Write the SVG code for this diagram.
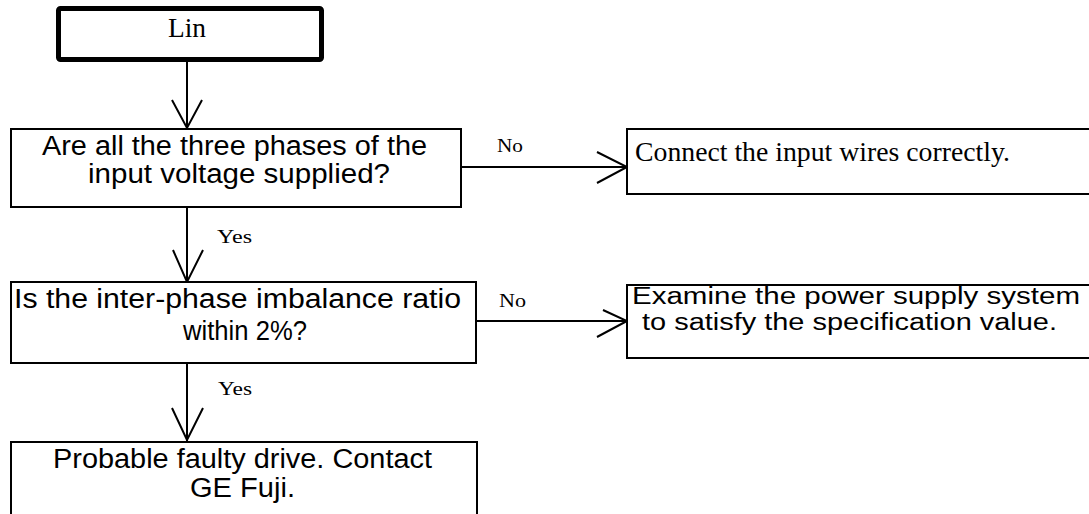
<svg xmlns="http://www.w3.org/2000/svg" width="1089" height="514" viewBox="0 0 1089 514">
<style>
.box{fill:#fff;stroke:#000;stroke-width:2}
.thick{fill:#fff;stroke:#000;stroke-width:5}
.ln{fill:none;stroke:#000;stroke-width:2}
.serif{font-family:"Liberation Serif","Times New Roman",serif;fill:#000}
.sans{font-family:"Liberation Sans",Arial,sans-serif;font-size:27px;fill:#000}
.lbl{font-family:"Liberation Serif","Times New Roman",serif;font-size:19px;fill:#000}
</style>
<rect width="1089" height="514" fill="#fff"/>
<g id="connectors">
<line class="ln" x1="187" y1="61" x2="187" y2="128"/>
<polyline class="ln" points="172,100 187,128 202,100"/>
<line class="ln" x1="187" y1="207" x2="187" y2="282"/>
<polyline class="ln" points="173,250 187,282 203,250"/>
<text class="lbl" x="217" y="243" textLength="35" lengthAdjust="spacingAndGlyphs">Yes</text>
<line class="ln" x1="187" y1="363" x2="187" y2="442"/>
<polyline class="ln" points="172,408 187,440 203,408"/>
<text class="lbl" x="218" y="395" textLength="34" lengthAdjust="spacingAndGlyphs">Yes</text>
<line class="ln" x1="461" y1="167" x2="627" y2="167"/>
<polyline class="ln" points="597,152 627,167 597,183"/>
<text class="lbl" x="497" y="152" textLength="26" lengthAdjust="spacingAndGlyphs">No</text>
<line class="ln" x1="476" y1="321" x2="627" y2="321"/>
<polyline class="ln" points="603,310 627,321 597,337"/>
<text class="lbl" x="499" y="307" textLength="27" lengthAdjust="spacingAndGlyphs">No</text>
</g>
<g id="lin">
<rect class="thick" x="58.5" y="8.5" width="263" height="51" rx="2"/>
<text class="serif" font-size="27" x="168" y="37" textLength="38" lengthAdjust="spacingAndGlyphs">Lin</text>
</g>
<g id="q1">
<rect class="box" x="11" y="129" width="450" height="78"/>
<text class="sans" x="42" y="155" textLength="385" lengthAdjust="spacingAndGlyphs">Are all the three phases of the</text>
<text class="sans" x="88" y="183" textLength="302" lengthAdjust="spacingAndGlyphs">input voltage supplied?</text>
</g>
<g id="a1">
<rect class="box" x="627" y="129" width="480" height="65"/>
<text class="serif" font-size="27" x="635" y="161" textLength="375" lengthAdjust="spacingAndGlyphs">Connect the input wires correctly.</text>
</g>
<g id="q2">
<rect class="box" x="11" y="282" width="465" height="81"/>
<text class="sans" x="14" y="308" textLength="447" lengthAdjust="spacingAndGlyphs">Is the inter-phase imbalance ratio</text>
<text class="sans" x="183" y="340" textLength="124" lengthAdjust="spacingAndGlyphs">within 2%?</text>
</g>
<g id="a2">
<rect class="box" x="627" y="285" width="480" height="73"/>
<text class="sans" font-size="23" style="font-size:23px" x="632" y="304" textLength="448" lengthAdjust="spacingAndGlyphs">Examine the power supply system</text>
<text class="sans" style="font-size:23px" x="642" y="330" textLength="415" lengthAdjust="spacingAndGlyphs">to satisfy the specification value.</text>
</g>
<g id="result">
<rect class="box" x="11" y="442" width="466" height="100"/>
<text class="sans" x="53" y="468" textLength="379" lengthAdjust="spacingAndGlyphs">Probable faulty drive. Contact</text>
<text class="sans" x="190" y="497" textLength="105" lengthAdjust="spacingAndGlyphs">GE Fuji.</text>
</g>
</svg>
